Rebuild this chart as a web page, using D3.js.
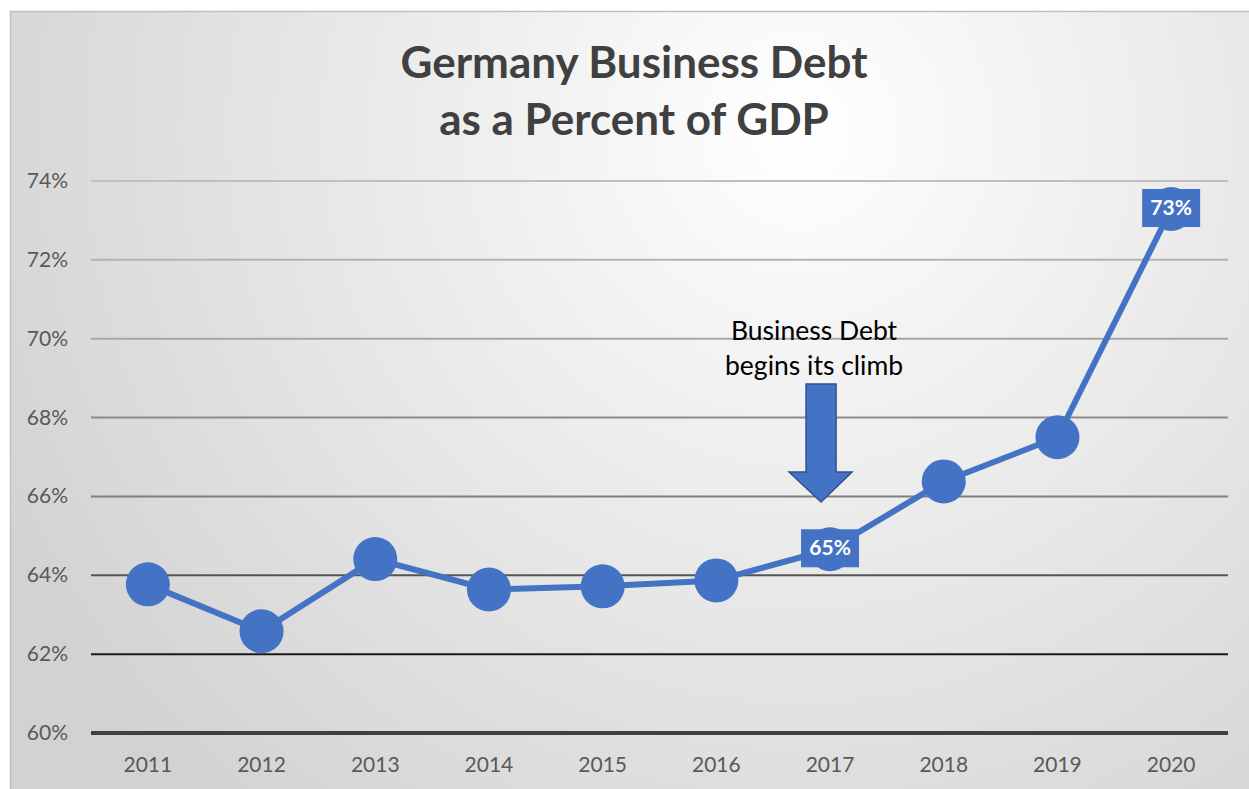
<!DOCTYPE html>
<html>
<head>
<meta charset="utf-8">
<script src="https://cdn.jsdelivr.net/npm/d3@7"></script>
<style>
	html, body { margin: 0; padding: 0; background: #fff; }
	svg { display: block; font-family: Lato, 'Open Sans', sans-serif; }
</style>
</head>
<body>
<div id="chart"></div>
<script>
const years = ['2011', '2012', '2013', '2014', '2015', '2016', '2017', '2018', '2019', '2020']
const debtPct = [63.77, 62.58, 64.41, 63.64, 63.72, 63.87, 64.66, 66.38, 67.5, 73.29]
const yTicks = [60, 62, 64, 66, 68, 70, 72, 74]
const gridColors = ['#404040', '#1a1a1a', '#555', '#7f7f7f', '#8c8c8c', '#a6a6a6', '#b3b3b3', '#bfbfbf']
const labelled = ['2017', '2020']
const titleLines = ['Germany Business Debt', 'as a Percent of GDP']
const noteLines = ['Business Debt', 'begins its climb']

const width = 1249
const height = 789
const blue = '#4472c4'

const svg = d3.select('#chart').append('svg').attr('width', width).attr('height', height)

const defs = svg.append('defs')
const grad = defs
	.append('radialGradient')
	.attr('id', 'bg')
	.attr('gradientUnits', 'userSpaceOnUse')
	.attr('cx', 800)
	.attr('cy', 130)
	.attr('r', 900)
grad.append('stop').attr('offset', '0%').attr('stop-color', '#ffffff')
grad.append('stop').attr('offset', '100%').attr('stop-color', '#d2d2d2')

svg
	.append('rect')
	.attr('x', 10.5)
	.attr('y', 11.5)
	.attr('width', width)
	.attr('height', height)
	.attr('fill', 'url(#bg)')
	.attr('stroke', '#bfbfbf')
	.attr('stroke-width', 1.5)

const x = d3.scaleBand().domain(years).range([91, 1228])
const y = d3.scaleLinear().domain([60, 74]).range([733, 181])
const cx = (d) => x(d) + x.bandwidth() / 2

// title
svg
	.append('g')
	.selectAll('text')
	.data(titleLines)
	.join('text')
	.attr('x', 634)
	.attr('y', (_d, i) => 78 + i * 57)
	.attr('text-anchor', 'middle')
	.attr('font-size', 44)
	.attr('font-weight', 'bold')
	.attr('fill', '#404040')
	.text((d) => d)

// grid lines
svg
	.append('g')
	.selectAll('line')
	.data(yTicks)
	.join('line')
	.attr('x1', 91)
	.attr('x2', 1228)
	.attr('y1', (d) => y(d))
	.attr('y2', (d) => y(d))
	.attr('stroke', (_d, i) => gridColors[i])
	.attr('stroke-width', (d) => (d === 60 ? 4 : 2))

// y axis labels
svg
	.append('g')
	.selectAll('text')
	.data(yTicks)
	.join('text')
	.attr('x', 68)
	.attr('y', (d) => y(d) + 7)
	.attr('text-anchor', 'end')
	.attr('font-size', 21)
	.attr('fill', '#595959')
	.text((d) => d + '%')

// x axis labels
svg
	.append('g')
	.selectAll('text')
	.data(years)
	.join('text')
	.attr('x', (d) => cx(d))
	.attr('y', 772)
	.attr('text-anchor', 'middle')
	.attr('font-size', 21)
	.attr('fill', '#595959')
	.text((d) => d)

const pts = years.map((yr, i) => ({ yr, v: debtPct[i] }))

svg
	.append('path')
	.datum(pts)
	.attr('fill', 'none')
	.attr('stroke', blue)
	.attr('stroke-width', 6)
	.attr('stroke-linejoin', 'round')
	.attr('d', d3.line().x((d) => cx(d.yr)).y((d) => y(d.v)))

svg
	.append('g')
	.selectAll('circle')
	.data(pts)
	.join('circle')
	.attr('cx', (d) => cx(d.yr))
	.attr('cy', (d) => y(d.v))
	.attr('r', 22)
	.attr('fill', blue)

// data labels
const lab = svg
	.append('g')
	.selectAll('g')
	.data(pts.filter((d) => labelled.includes(d.yr)))
	.join('g')
	.attr('transform', (d) => 'translate(' + cx(d.yr) + ',' + (y(d.v) - 1) + ')')
lab.append('rect').attr('x', -29).attr('y', -19).attr('width', 58).attr('height', 38).attr('fill', blue)
lab
	.append('text')
	.attr('y', 7)
	.attr('text-anchor', 'middle')
	.attr('font-size', 21)
	.attr('font-weight', 'bold')
	.attr('fill', '#fff')
	.text((d) => Math.round(d.v) + '%')

// annotation
const ax = cx('2017') - 9
svg
	.append('g')
	.selectAll('text')
	.data(noteLines)
	.join('text')
	.attr('x', ax - 7)
	.attr('y', (_d, i) => 340 + i * 35)
	.attr('text-anchor', 'middle')
	.attr('font-size', 26.5)
	.attr('fill', '#000')
	.text((d) => d)

svg
	.append('path')
	.attr(
		'd',
		'M' + (ax - 15) + ',384 H' + (ax + 15) + ' V472 H' + (ax + 31) + ' L' + ax + ',502 L' + (ax - 32) + ',472 H' + (ax - 15) + ' Z'
	)
	.attr('fill', blue)
	.attr('stroke', '#2f528f')
	.attr('stroke-width', 1.5)
</script>
</body>
</html>
